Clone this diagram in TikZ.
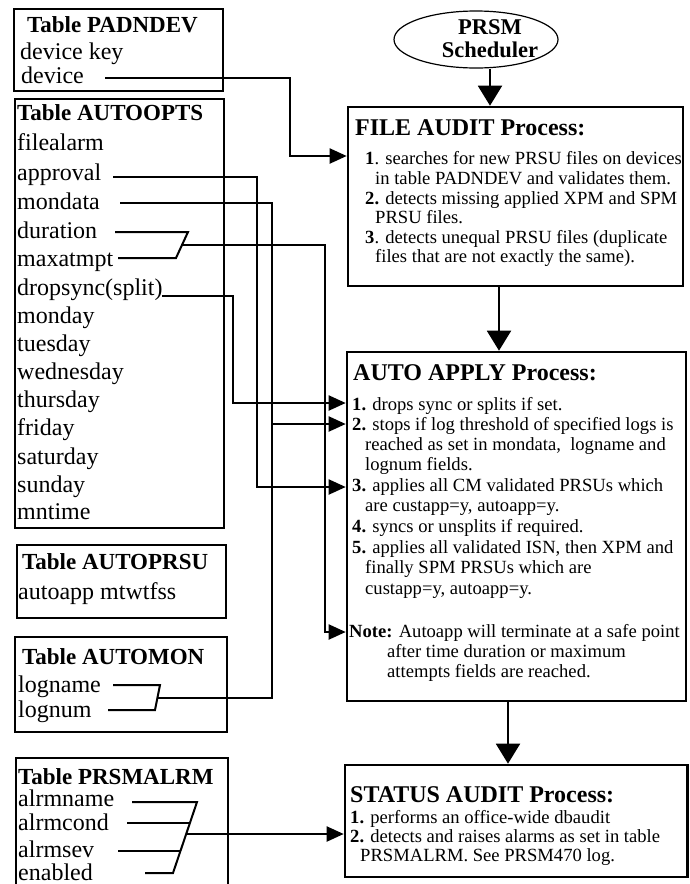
\documentclass[tikz,border=0pt]{standalone}
\usepackage{fontspec}
\setmainfont{Liberation Serif}
\usetikzlibrary{arrows.meta,shapes.geometric,calc}

\begin{document}
\begin{tikzpicture}[x=1pt,y=-1pt,
  tblbox/.style={draw, line width=2.4pt, rectangle, inner sep=0pt},
  procbox/.style={draw, line width=2.6pt, rectangle, inner sep=0pt},
  txt/.style={anchor=west, inner sep=0pt, yshift=-5pt, text height=0.68em, text depth=0.2em},
  tbltitle/.style={txt, font=\fontsize{23}{23}\selectfont\bfseries},
  field/.style={txt, font=\fontsize{24}{24}\selectfont},
  prochead/.style={txt, font=\fontsize{24}{24}\selectfont\bfseries},
  bodyline/.style={txt, yshift=0.5pt, font=\fontsize{18.6}{18.6}\selectfont},
  wire/.style={line width=2pt},
  feed/.style={wire, -{Triangle[length=17pt,width=15pt]}},
  flow/.style={wire, -{Triangle[length=20pt,width=24pt]}},
]
\useasboundingbox (0,0) rectangle (689,884);

% ---------- database tables ----------
\node[tblbox, minimum width=209pt, minimum height=82pt] (pad) at (118.5,50) {};
\node[tbltitle] (padT) at (27,25) {Table PADNDEV};
\node[field] (padK) at (20,52) {device key};
\node[field] (padD) at (21,76) {device};

\node[tblbox, minimum width=209pt, minimum height=429pt] (opts) at (119.5,313.5) {};
\node[tbltitle] (optsT) at (17,113) {Table AUTOOPTS};
\node[field] (fAlarm) at (17,143) {filealarm};
\node[field] (fAppr)  at (17,173) {approval};
\node[field] (fMon)   at (17,202) {mondata};
\node[field] (fDur)   at (17,231) {duration};
\node[field] (fMax)   at (17,259) {maxatmpt};
\node[field] (fDrop)  at (17,288) {dropsync(split)};
\node[field] (fMo)    at (17,316) {monday};
\node[field] (fTu)    at (17,344) {tuesday};
\node[field] (fWe)    at (17,372) {wednesday};
\node[field] (fTh)    at (17,400) {thursday};
\node[field] (fFr)    at (17,428) {friday};
\node[field] (fSa)    at (17,457) {saturday};
\node[field] (fSu)    at (17,485) {sunday};
\node[field] (fMn)    at (17,512) {mntime};

\node[tblbox, minimum width=209pt, minimum height=73pt] (prsu) at (121.5,581.5) {};
\node[tbltitle] (prsuT) at (22,562) {Table AUTOPRSU};
\node[field] (prsuA) at (18,592) {autoapp mtwtfss};

\node[tblbox, minimum width=212pt, minimum height=95pt] (mon) at (121,684.5) {};
\node[tbltitle] (monT) at (22,657) {Table AUTOMON};
\node[field] (monN) at (18,685) {logname};
\node[field] (monM) at (18,710) {lognum};

\node[tblbox, minimum width=212pt, minimum height=150pt] (alrm) at (122,833) {};
\node[tbltitle] (alrmT) at (18,777) {Table PRSMALRM};
\node[field] (aN) at (18,799) {alrmname};
\node[field] (aC) at (18,823) {alrmcond};
\node[field] (aS) at (18,850) {alrmsev};
\node[field] (aE) at (18,873) {enabled};

% ---------- scheduler and processes ----------
\node[draw, ellipse, line width=1.2pt, minimum width=164pt, minimum height=57pt, inner sep=0pt] (sched) at (476,39.5) {};
\node[inner sep=0pt, align=center, font=\fontsize{22.5}{23}\selectfont\bfseries] (schedT) at (490,38.5) {PRSM\\Scheduler};

\node[procbox, minimum width=335pt, minimum height=179pt] (fa) at (515.5,196.5) {};
\node[prochead] (faH) at (355,128) {FILE AUDIT Process:};
\node[bodyline] (fa1) at (365,158) {\textbf{1}. searches for new PRSU files on devices};
\node[bodyline] (fa1b) at (375,178) {in table PADNDEV and validates them.};
\node[bodyline] (fa2) at (365,198) {\textbf{2.} detects missing applied XPM and SPM};
\node[bodyline] (fa2b) at (375,217) {PRSU files.};
\node[bodyline] (fa3) at (365,237) {\textbf{3}. detects unequal PRSU files (duplicate};
\node[bodyline] (fa3b) at (375,256) {files that are not exactly the same).};

\node[procbox, minimum width=339pt, minimum height=349pt] (aa) at (516.5,526.5) {};
\node[prochead] (aaH) at (353,373) {AUTO APPLY Process:};
\node[bodyline] (aa1) at (352,404) {\textbf{1.} drops sync or splits if set.};
\node[bodyline] (aa2) at (352,424) {\textbf{2.} stops if log threshold of specified logs is};
\node[bodyline] (aa2b) at (365,444) {reached as set in mondata,\ \ logname and};
\node[bodyline] (aa2c) at (365,464) {lognum fields.};
\node[bodyline] (aa3) at (352,485) {\textbf{3.} applies all CM validated PRSUs which};
\node[bodyline] (aa3b) at (365,505) {are custapp=y, autoapp=y.};
\node[bodyline] (aa4) at (352,526) {\textbf{4.} syncs or unsplits if required.};
\node[bodyline] (aa5) at (352,547) {\textbf{5.} applies all validated ISN, then XPM and};
\node[bodyline] (aa5b) at (365,567) {finally SPM PRSUs which are};
\node[bodyline] (aa5c) at (365,588) {custapp=y, autoapp=y.};
\node[bodyline] (aaN) at (349,631) {\textbf{Note:} Autoapp will terminate at a safe point};
\node[bodyline] (aaNb) at (387,651) {after time duration or maximum};
\node[bodyline] (aaNc) at (387,671) {attempts fields are reached.};

\node[procbox, minimum width=342.5pt, minimum height=112pt] (sa) at (516.25,821) {};
\node[prochead] (saH) at (350,795) {STATUS AUDIT Process:};
\node[bodyline] (sa1) at (350,817) {\textbf{1.} performs an office-wide dbaudit};
\node[bodyline] (sa2) at (350,836) {\textbf{2.} detects and raises alarms as set in table};
\node[bodyline] (sa2b) at (360,855) {PRSMALRM. See PRSM470 log.};

% ---------- process flow ----------
\coordinate (fx1) at (490,0);
\coordinate (fx2) at (499,0);
\coordinate (fx3) at (508,0);
\draw[flow] (sched.south -| fx1) -- (fa.north -| fx1);
\draw[flow] (fa.south -| fx2) -- (aa.north -| fx2);
\draw[flow] (aa.south -| fx3) -- (sa.north -| fx3);

% ---------- field links ----------
% device -> file audit
\coordinate (dvS) at (105,78);
\coordinate (dvK) at (290,156);
\draw[feed] (dvS) -| (dvK) -- (fa.west |- dvK);

% approval -> step 3
\coordinate (apS) at (113,177);
\coordinate (apK) at (257,487);
\draw[feed] (apS) -| (apK) -- (aa.west |- apK);

% mondata (and logname/lognum) -> step 2
\coordinate (mdS) at (120,203);
\coordinate (mdK) at (272,424);
\draw[feed] (mdS) -| (mdK) -- (aa.west |- mdK);

% duration + maxatmpt -> note
\coordinate (duS) at (115,232);
\coordinate (duB) at (188,232);
\coordinate (mxS) at (118,258);
\coordinate (mxB) at (176,258);
\draw[wire] (duS) -- (duB) -- (mxB) -- (mxS);
\coordinate (duJ) at ($(duB)!0.5!(mxB)$);
\coordinate (duK) at (325,632);
\draw[feed] (duJ) -| (duK) -- (aa.west |- duK);

% dropsync -> step 1
\coordinate (dsS) at (162,296);
\coordinate (dsK) at (233,403);
\draw[feed] (dsS) -| (dsK) -- (aa.west |- dsK);

% logname + lognum join the mondata line
\coordinate (lnS) at (113,685);
\coordinate (lnB) at (160,685);
\coordinate (lmS) at (108,710);
\coordinate (lmB) at (155,710);
\draw[wire] (lnS) -- (lnB) -- (lmB) -- (lmS);
\coordinate (lgJ) at ($(lnB)!0.5!(lmB)$);
\draw[wire] (lgJ) -| (mdK);

% alarm fields -> status audit
\coordinate (a1S) at (132,802);
\coordinate (a1B) at (197,802);
\coordinate (a2S) at (127,823);
\coordinate (a2B) at (190,823);
\coordinate (a3S) at (118,851);
\coordinate (a3B) at (180.5,851);
\coordinate (a4S) at (145,873);
\coordinate (a4B) at (173,873);
\draw[wire] (a1S) -- (a1B) -- (a4B) -- (a4S);
\draw[wire] (a2S) -- (a2B);
\draw[wire] (a3S) -- (a3B);
\coordinate (aJ) at (186.2,834);
\draw[feed] (aJ) -- (sa.west |- aJ);
\end{tikzpicture}
\end{document}
